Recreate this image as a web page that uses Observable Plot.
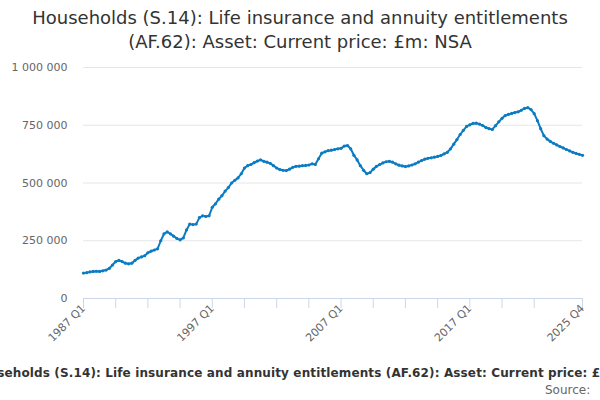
<!DOCTYPE html>
<html>
<head>
<meta charset="utf-8">
<script src="https://cdn.jsdelivr.net/npm/d3@7"></script>
<script src="https://cdn.jsdelivr.net/npm/@observablehq/plot@0.6"></script>
<style>
  body { margin: 0; width: 600px; height: 400px; overflow: hidden; background: #fff; font-family: "DejaVu Sans", sans-serif; position: relative; }
  #title { position: absolute; top: 6px; left: 0; width: 600px; text-align: center; font-size: 18px; line-height: 24px; color: #333; }
  #chart { position: absolute; top: 54px; left: 0; }
  #caption { position: absolute; top: 364px; left: -30px; white-space: nowrap; font-size: 12px; letter-spacing: 0.13px; font-weight: bold; color: #333; line-height: 18px; }
  #source { position: absolute; top: 382px; left: 545px; width: 46px; overflow: hidden; white-space: nowrap; font-size: 12px; color: #666; line-height: 16px; }
</style>
</head>
<body>
<div id="title">Households (S.14): Life insurance and annuity entitlements<br>(AF.62): Asset: Current price: £m: NSA</div>
<div id="chart"></div>
<div id="caption">Households (S.14): Life insurance and annuity entitlements (AF.62): Asset: Current price: £m: NSA</div>
<div id="source">Source: Office for National Statistics</div>
<script>
const startYear = 1987;
// £m, quarterly 1987 Q1 .. 2025 Q4
const values = [
  110000, 112000, 115000, 117000,
  118000, 117000, 120000, 123000,
  130000, 145000, 160000, 165000,
  160000, 153000, 150000, 153000,
  165000, 175000, 180000, 185000,
  198000, 205000, 210000, 215000,
  250000, 280000, 288000, 280000,
  270000, 260000, 254000, 262000,
  297000, 322000, 320000, 322000,
  350000, 358000, 355000, 358000,
  395000, 410000, 430000, 445000,
  465000, 480000, 500000, 512000,
  522000, 540000, 565000, 575000,
  580000, 588000, 595000, 600000,
  594000, 590000, 585000, 575000,
  565000, 558000, 555000, 554000,
  560000, 568000, 572000, 573000,
  575000, 576000, 578000, 583000,
  580000, 605000, 629000, 635000,
  640000, 642000, 645000, 648000,
  650000, 660000, 662000, 648000,
  620000, 600000, 575000, 555000,
  540000, 545000, 560000, 572000,
  580000, 587000, 592000, 594000,
  590000, 583000, 577000, 574000,
  571000, 574000, 578000, 583000,
  590000, 597000, 603000, 607000,
  609000, 612000, 615000, 619000,
  626000, 633000, 648000, 668000,
  688000, 710000, 728000, 745000,
  752000, 758000, 759000, 755000,
  749000, 740000, 735000, 732000,
  748000, 765000, 780000, 792000,
  797000, 801000, 805000, 808000,
  815000, 823000, 826000, 818000,
  800000, 770000, 735000, 705000,
  690000, 680000, 672000, 665000,
  658000, 652000, 645000, 639000,
  633000, 628000, 624000, 620000
];
const yTicks = [0, 250000, 500000, 750000, 1000000];
const xTickIdx = [0, 10, 20, 30, 40, 50, 60, 70, 80, 90, 100, 110, 120, 130, 140, 155];
const xLabelIdx = [0, 40, 80, 120, 155];

const quarterLabel = i => `${startYear + Math.floor(i / 4)} Q${(i % 4) + 1}`;
const data = values.map((v, i) => ({i, label: quarterLabel(i), v}));
const fmt = v => d3.format(",")(v).replace(/,/g, " ");

const chart = Plot.plot({
  width: 600,
  height: 300,
  marginTop: 13,
  marginBottom: 56,
  marginLeft: 83,
  marginRight: 18,
  style: {fontFamily: "DejaVu Sans, sans-serif", fontSize: "11px", color: "#666", background: "#fff"},
  x: {domain: [0, values.length - 1]},
  y: {domain: [0, 1000000]},
  marks: [
    Plot.gridY(yTicks, {stroke: "#e6e6e6", strokeOpacity: 1}),
    Plot.axisY(yTicks, {tickSize: 0, tickPadding: 16, tickFormat: fmt, label: null, fill: "#666", fontSize: 11}),
    Plot.ruleY([0], {stroke: "#ccd6eb", strokeWidth: 1}),
    Plot.axisX(xTickIdx, {tickSize: 10, tickFormat: () => "", stroke: "#ccd6eb", strokeOpacity: 1, label: null}),
    Plot.axisX(xLabelIdx, {tickSize: 0, tickPadding: 8, tickRotate: -45, tickFormat: quarterLabel, label: null, fill: "#666", fontSize: 11}),
    Plot.line(data, {x: "i", y: "v", stroke: "#0b7bc2", strokeWidth: 2}),
    Plot.dot(data, {x: "i", y: "v", r: 1.6, fill: "#0b7bc2", stroke: "none"})
  ]
});
document.getElementById("chart").appendChild(chart);
</script>
</body>
</html>
